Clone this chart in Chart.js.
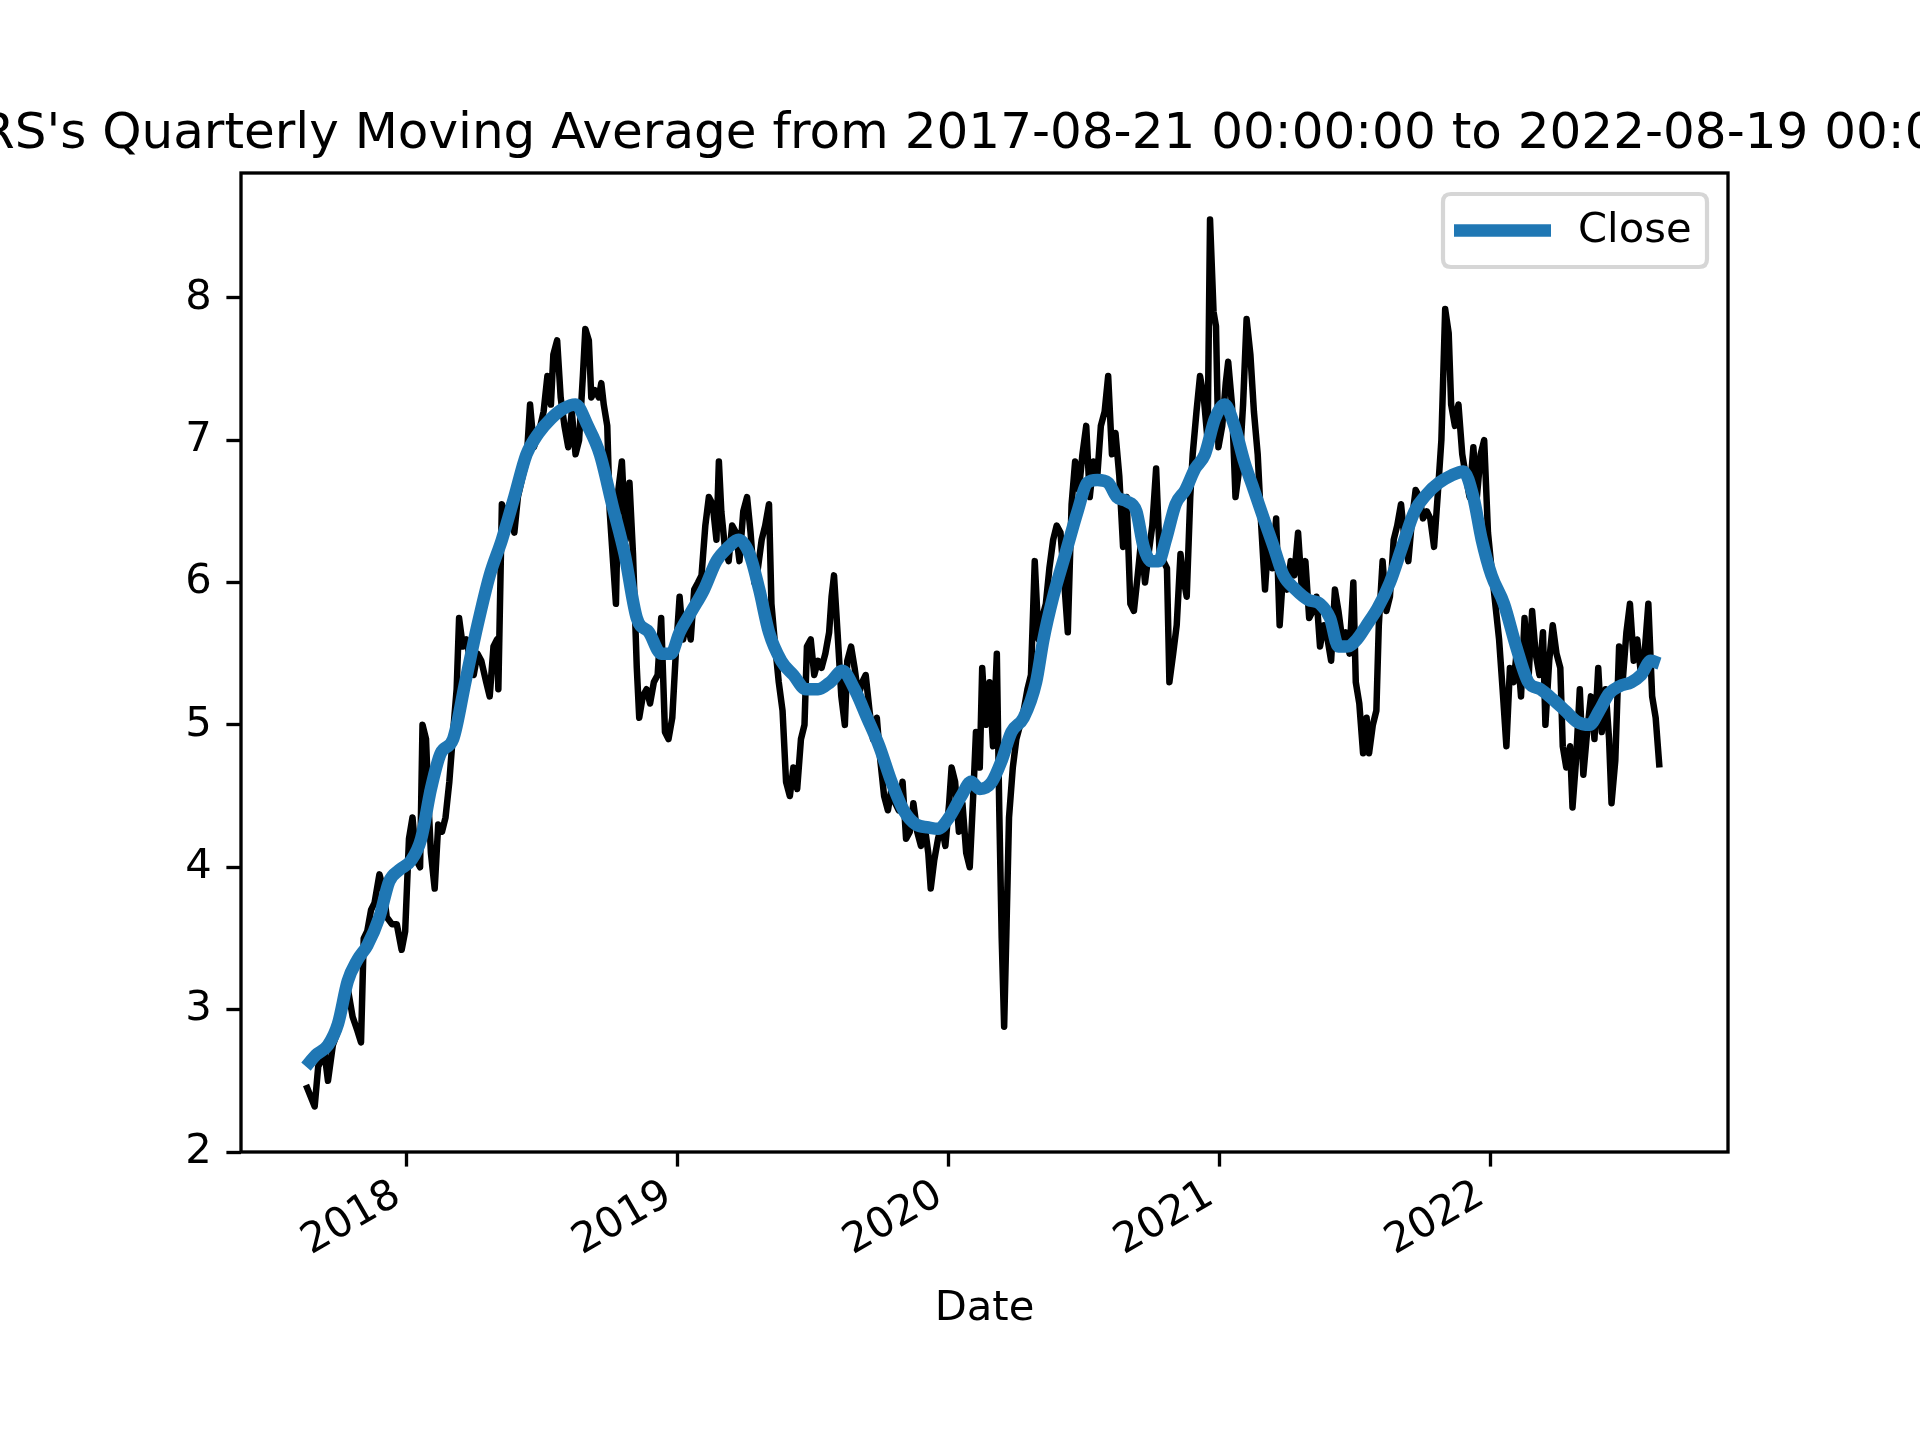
<!DOCTYPE html>
<html>
<head>
<meta charset="utf-8">
<title>Quarterly Moving Average</title>
<script src="https://cdn.jsdelivr.net/npm/chart.js@4.4.0/dist/chart.umd.min.js"></script>
<style>
  html, body { margin: 0; padding: 0; background: #ffffff; overflow: hidden; }
  canvas { display: block; }
</style>
</head>
<body>
<canvas id="chart" width="1920" height="1440"></canvas>
<script>
// daily close (dates as decimal years)
var closeDates = [
    2017.629, 2017.661, 2017.674, 2017.697, 2017.710, 2017.728, 2017.747, 2017.765, 2017.783, 2017.801,
    2017.819, 2017.832, 2017.842, 2017.855, 2017.869, 2017.882, 2017.900, 2017.914, 2017.927, 2017.946,
    2017.964, 2017.982, 2017.995, 2018.009, 2018.022, 2018.036, 2018.050, 2018.059, 2018.072, 2018.081,
    2018.090, 2018.104, 2018.117, 2018.131, 2018.144, 2018.158, 2018.172, 2018.185, 2018.194, 2018.208,
    2018.221, 2018.235, 2018.248, 2018.262, 2018.276, 2018.294, 2018.307, 2018.321, 2018.334, 2018.339,
    2018.352, 2018.366, 2018.380, 2018.398, 2018.411, 2018.429, 2018.443, 2018.456, 2018.470, 2018.488,
    2018.506, 2018.520, 2018.533, 2018.542, 2018.556, 2018.569, 2018.583, 2018.597, 2018.610, 2018.624,
    2018.637, 2018.651, 2018.660, 2018.673, 2018.682, 2018.696, 2018.710, 2018.719, 2018.728, 2018.741,
    2018.750, 2018.764, 2018.773, 2018.782, 2018.795, 2018.809, 2018.823, 2018.836, 2018.850, 2018.859,
    2018.872, 2018.886, 2018.899, 2018.913, 2018.927, 2018.940, 2018.954, 2018.967, 2018.981, 2018.994,
    2019.008, 2019.021, 2019.035, 2019.049, 2019.062, 2019.076, 2019.089, 2019.103, 2019.116, 2019.130,
    2019.144, 2019.153, 2019.162, 2019.175, 2019.189, 2019.202, 2019.216, 2019.229, 2019.243, 2019.257,
    2019.270, 2019.284, 2019.297, 2019.311, 2019.324, 2019.338, 2019.347, 2019.361, 2019.374, 2019.388,
    2019.401, 2019.415, 2019.428, 2019.442, 2019.456, 2019.469, 2019.478, 2019.492, 2019.505, 2019.519,
    2019.532, 2019.546, 2019.560, 2019.569, 2019.578, 2019.591, 2019.605, 2019.618, 2019.627, 2019.641,
    2019.654, 2019.668, 2019.682, 2019.695, 2019.709, 2019.722, 2019.736, 2019.749, 2019.763, 2019.777,
    2019.790, 2019.804, 2019.817, 2019.831, 2019.844, 2019.858, 2019.871, 2019.885, 2019.899, 2019.912,
    2019.926, 2019.935, 2019.948, 2019.962, 2019.975, 2019.989, 2020.003, 2020.012, 2020.025, 2020.039,
    2020.052, 2020.066, 2020.079, 2020.093, 2020.102, 2020.116, 2020.125, 2020.138, 2020.152, 2020.165,
    2020.179, 2020.188, 2020.197, 2020.206, 2020.215, 2020.224, 2020.238, 2020.251, 2020.265, 2020.278,
    2020.292, 2020.305, 2020.319, 2020.333, 2020.346, 2020.360, 2020.373, 2020.387, 2020.400, 2020.414,
    2020.428, 2020.441, 2020.455, 2020.468, 2020.482, 2020.495, 2020.509, 2020.522, 2020.536, 2020.550,
    2020.563, 2020.577, 2020.590, 2020.604, 2020.617, 2020.631, 2020.645, 2020.658, 2020.672, 2020.685,
    2020.699, 2020.712, 2020.726, 2020.739, 2020.753, 2020.767, 2020.780, 2020.794, 2020.807, 2020.816,
    2020.830, 2020.843, 2020.857, 2020.866, 2020.880, 2020.893, 2020.902, 2020.916, 2020.929, 2020.943,
    2020.957, 2020.966, 2020.979, 2020.988, 2020.997, 2021.011, 2021.024, 2021.033, 2021.047, 2021.060,
    2021.074, 2021.088, 2021.101, 2021.115, 2021.128, 2021.142, 2021.155, 2021.169, 2021.183, 2021.196,
    2021.210, 2021.223, 2021.237, 2021.250, 2021.264, 2021.277, 2021.291, 2021.305, 2021.318, 2021.332,
    2021.345, 2021.359, 2021.372, 2021.386, 2021.400, 2021.413, 2021.427, 2021.440, 2021.454, 2021.467,
    2021.481, 2021.495, 2021.504, 2021.517, 2021.531, 2021.544, 2021.553, 2021.567, 2021.580, 2021.589,
    2021.603, 2021.617, 2021.630, 2021.644, 2021.657, 2021.671, 2021.684, 2021.698, 2021.712, 2021.725,
    2021.739, 2021.752, 2021.766, 2021.779, 2021.793, 2021.806, 2021.820, 2021.834, 2021.847, 2021.856,
    2021.870, 2021.883, 2021.897, 2021.910, 2021.924, 2021.938, 2021.951, 2021.965, 2021.978, 2021.992,
    2022.005, 2022.019, 2022.033, 2022.046, 2022.060, 2022.073, 2022.087, 2022.100, 2022.114, 2022.127,
    2022.141, 2022.155, 2022.168, 2022.182, 2022.195, 2022.204, 2022.218, 2022.231, 2022.245, 2022.259,
    2022.268, 2022.281, 2022.295, 2022.304, 2022.317, 2022.331, 2022.344, 2022.358, 2022.372, 2022.385,
    2022.399, 2022.412, 2022.426, 2022.439, 2022.448, 2022.462, 2022.476, 2022.489, 2022.503, 2022.516,
    2022.530, 2022.543, 2022.557, 2022.570, 2022.584, 2022.598, 2022.611, 2022.625
];
var closeValues = [
    2.47, 2.32, 2.6, 2.7, 2.5, 2.75, 2.85, 3.05, 3.15, 2.95,
    2.85, 2.77, 3.5, 3.55, 3.7, 3.75, 3.95, 3.85, 3.65, 3.6,
    3.6, 3.42, 3.55, 4.2, 4.35, 4.05, 4.0, 5.0, 4.9, 4.45,
    4.1, 3.85, 4.3, 4.25, 4.35, 4.6, 4.95, 5.25, 5.75, 5.55,
    5.6, 5.45, 5.35, 5.5, 5.45, 5.3, 5.2, 5.55, 5.6, 5.25,
    6.55, 6.45, 6.55, 6.35, 6.6, 6.75, 6.85, 7.25, 6.95, 7.05,
    7.2, 7.45, 7.25, 7.6, 7.7, 7.3, 7.1, 6.95, 7.2, 6.9,
    7.0, 7.45, 7.78, 7.7, 7.3, 7.35, 7.3, 7.4, 7.25, 7.1,
    6.5, 6.1, 5.85, 6.65, 6.85, 6.3, 6.7, 6.2, 5.4, 5.05,
    5.2, 5.25, 5.15, 5.3, 5.35, 5.75, 4.95, 4.9, 5.05, 5.5,
    5.9, 5.6, 5.75, 5.6, 5.95, 6.0, 6.05, 6.4, 6.6, 6.55,
    6.3, 6.85, 6.5, 6.25, 6.15, 6.4, 6.35, 6.15, 6.5, 6.6,
    6.35, 6.0, 6.1, 6.3, 6.4, 6.55, 5.85, 5.55, 5.3, 5.1,
    4.6, 4.5, 4.7, 4.55, 4.9, 5.0, 5.55, 5.6, 5.35, 5.45,
    5.4, 5.5, 5.65, 5.9, 6.05, 5.65, 5.2, 5.0, 5.45, 5.55,
    5.4, 5.2, 5.3, 5.35, 5.1, 4.9, 5.05, 4.75, 4.5, 4.4,
    4.55, 4.45, 4.4, 4.6, 4.2, 4.25, 4.45, 4.25, 4.15, 4.3,
    4.1, 3.85, 4.05, 4.2, 4.3, 4.15, 4.45, 4.7, 4.6, 4.25,
    4.45, 4.1, 4.0, 4.55, 4.95, 4.7, 5.4, 5.0, 5.3, 4.85,
    5.5, 4.4, 3.5, 2.88, 3.6, 4.35, 4.7, 4.9, 5.0, 5.1,
    5.25, 5.35, 6.15, 5.6, 5.75, 5.85, 6.1, 6.3, 6.4, 6.35,
    6.0, 5.65, 6.55, 6.85, 6.65, 6.9, 7.1, 6.6, 6.85, 6.75,
    7.1, 7.2, 7.45, 6.9, 7.05, 6.75, 6.25, 6.6, 5.85, 5.8,
    6.05, 6.3, 6.0, 6.2, 6.4, 6.8, 6.2, 6.15, 6.1, 5.3,
    5.5, 5.7, 6.2, 6.05, 5.9, 6.6, 6.9, 7.2, 7.45, 7.3,
    7.0, 8.55, 7.9, 7.8, 6.95, 7.1, 7.4, 7.55, 7.25, 6.6,
    6.8, 7.25, 7.85, 7.6, 7.2, 6.9, 6.4, 5.95, 6.35, 6.1,
    6.45, 5.7, 6.1, 5.95, 6.15, 6.05, 6.35, 5.95, 6.15, 5.75,
    5.8, 5.9, 5.55, 5.7, 5.6, 5.45, 5.95, 5.8, 5.6, 5.65,
    5.5, 6.0, 5.3, 5.15, 4.8, 5.05, 4.8, 5.0, 5.1, 5.7,
    6.15, 5.8, 5.9, 6.3, 6.4, 6.55, 6.3, 6.15, 6.45, 6.65,
    6.6, 6.45, 6.5, 6.45, 6.25, 6.6, 7.0, 7.92, 7.75, 7.25,
    7.1, 7.25, 6.9, 6.75, 6.6, 6.95, 6.6, 6.9, 7.0, 6.35,
    6.1, 5.85, 5.6, 5.25, 4.85, 5.4, 5.3, 5.55, 5.2, 5.75,
    5.3, 5.8, 5.5, 5.35, 5.65, 5.0, 5.45, 5.7, 5.5, 5.4,
    4.85, 4.7, 4.85, 4.42, 4.75, 5.25, 4.65, 4.95, 5.2, 4.9,
    5.4, 4.95, 5.25, 4.9, 4.45, 4.75, 5.55, 5.3, 5.65, 5.85,
    5.45, 5.6, 5.35, 5.5, 5.85, 5.2, 5.05, 4.7
];

// quarterly moving average (the line the legend calls "Close")
var maDates = [
    2017.629, 2017.665, 2017.710, 2017.747, 2017.783, 2017.819, 2017.855, 2017.900, 2017.936, 2017.973,
    2018.018, 2018.054, 2018.090, 2018.126, 2018.172, 2018.217, 2018.262, 2018.307, 2018.352, 2018.398,
    2018.443, 2018.488, 2018.533, 2018.578, 2018.624, 2018.669, 2018.714, 2018.759, 2018.805, 2018.850,
    2018.895, 2018.940, 2018.976, 2019.008, 2019.053, 2019.098, 2019.144, 2019.189, 2019.225, 2019.266,
    2019.302, 2019.338, 2019.383, 2019.428, 2019.474, 2019.519, 2019.564, 2019.609, 2019.654, 2019.700,
    2019.745, 2019.790, 2019.835, 2019.881, 2019.926, 2019.962, 2020.003, 2020.048, 2020.084, 2020.116,
    2020.161, 2020.197, 2020.233, 2020.278, 2020.324, 2020.351, 2020.387, 2020.432, 2020.477, 2020.513,
    2020.550, 2020.590, 2020.622, 2020.658, 2020.694, 2020.721, 2020.749, 2020.776, 2020.803, 2020.839,
    2020.875, 2020.911, 2020.947, 2020.984, 2021.020, 2021.056, 2021.092, 2021.128, 2021.164, 2021.201,
    2021.237, 2021.282, 2021.327, 2021.372, 2021.409, 2021.440, 2021.472, 2021.508, 2021.544, 2021.585,
    2021.630, 2021.675, 2021.721, 2021.766, 2021.811, 2021.856, 2021.901, 2021.938, 2021.969, 2022.005,
    2022.051, 2022.096, 2022.141, 2022.186, 2022.231, 2022.277, 2022.322, 2022.367, 2022.403, 2022.439,
    2022.476, 2022.521, 2022.557, 2022.593, 2022.625
];
var maValues = [
    2.6, 2.68, 2.75, 2.9, 3.2, 3.35, 3.45, 3.65, 3.9, 3.98,
    4.05, 4.2, 4.55, 4.8, 4.9, 5.3, 5.7, 6.05, 6.3, 6.6,
    6.9, 7.05, 7.15, 7.22, 7.25, 7.1, 6.9, 6.55, 6.2, 5.75,
    5.65, 5.5, 5.5, 5.65, 5.8, 5.95, 6.15, 6.25, 6.3, 6.2,
    5.95, 5.65, 5.45, 5.35, 5.25, 5.25, 5.3, 5.38, 5.25, 5.05,
    4.85, 4.6, 4.4, 4.3, 4.28, 4.27, 4.35, 4.5, 4.6, 4.55,
    4.6, 4.75, 4.95, 5.05, 5.3, 5.6, 5.9, 6.2, 6.5, 6.7,
    6.72, 6.7, 6.6, 6.57, 6.5, 6.25, 6.15, 6.15, 6.3, 6.55,
    6.65, 6.8, 6.9, 7.15, 7.25, 7.1, 6.85, 6.65, 6.45, 6.25,
    6.05, 5.95, 5.88, 5.85, 5.75, 5.55, 5.55, 5.6, 5.7, 5.82,
    6.0, 6.25, 6.5, 6.62, 6.7, 6.75, 6.78, 6.6, 6.3, 6.05,
    5.85, 5.55, 5.3, 5.25, 5.18, 5.1, 5.02, 5.0, 5.1, 5.22,
    5.27, 5.3, 5.35, 5.45, 5.43
];

var yearTicks = [2018, 2019, 2020, 2021, 2022];
var valueTicks = [2, 3, 4, 5, 6, 7, 8];
var chartTitle = "RS's Quarterly Moving Average from 2017-08-21 00:00:00 to 2022-08-19 00:00:00";
var legendLabel = "Close";

var blue = "#1f77b4";
var fontFamily = "'DejaVu Sans', 'Liberation Sans', sans-serif";

function toPoints(xs, ys) {
    var pts = [];
    for (let i = 0; i < xs.length; i++) {
        pts.push({ x: xs[i], y: ys[i] });
    }
    return pts;
}

// title, frame and legend drawn the matplotlib way
var mplLook = {
    id: "mplLook",
    afterDraw: function(chart) {
        var ctx = chart.ctx;
        var area = chart.chartArea;
        ctx.save();

        // axes frame
        ctx.strokeStyle = "#000000";
        ctx.lineWidth = 3.33;
        ctx.strokeRect(area.left, area.top, area.right - area.left, area.bottom - area.top);

        // title
        ctx.fillStyle = "#000000";
        ctx.font = "50px " + fontFamily;
        ctx.textAlign = "left";
        ctx.textBaseline = "alphabetic";
        ctx.fillText(chartTitle, -20, area.top - 25);

        // legend box
        var bx = area.right - 21 - 264, by = area.top + 21, bw = 264, bh = 73, r = 8;
        ctx.beginPath();
        ctx.moveTo(bx + r, by);
        ctx.lineTo(bx + bw - r, by);
        ctx.quadraticCurveTo(bx + bw, by, bx + bw, by + r);
        ctx.lineTo(bx + bw, by + bh - r);
        ctx.quadraticCurveTo(bx + bw, by + bh, bx + bw - r, by + bh);
        ctx.lineTo(bx + r, by + bh);
        ctx.quadraticCurveTo(bx, by + bh, bx, by + bh - r);
        ctx.lineTo(bx, by + r);
        ctx.quadraticCurveTo(bx, by, bx + r, by);
        ctx.closePath();
        ctx.fillStyle = "rgba(255,255,255,0.8)";
        ctx.fill();
        ctx.strokeStyle = "#d6d6d6";
        ctx.lineWidth = 4.2;
        ctx.stroke();

        ctx.strokeStyle = blue;
        ctx.lineWidth = 12.5;
        ctx.lineCap = "butt";
        ctx.beginPath();
        ctx.moveTo(bx + 11, by + bh / 2);
        ctx.lineTo(bx + 108, by + bh / 2);
        ctx.stroke();

        ctx.fillStyle = "#000000";
        ctx.font = "41.7px " + fontFamily;
        ctx.textBaseline = "middle";
        ctx.fillText(legendLabel, bx + 135, by + bh / 2 + 1);
        ctx.restore();
    }
};

Chart.defaults.font.family = fontFamily;
Chart.defaults.color = "#000000";

var elem = document.getElementById("chart").getContext("2d");

const newChart = new Chart(elem, {
    type: "line",
    data: {
        datasets: [{
            label: legendLabel,
            data: toPoints(maDates, maValues),
            borderColor: blue,
            borderWidth: 12.5,
            borderJoinStyle: "round",
            cubicInterpolationMode: "monotone",
            pointRadius: 0,
            fill: false
        }, {
            label: "Daily",
            data: toPoints(closeDates, closeValues),
            borderColor: "#000000",
            borderWidth: 6.5,
            borderJoinStyle: "round",
            pointRadius: 0,
            tension: 0,
            fill: false
        }]
    },
    options: {
        responsive: false,
        animation: false,
        devicePixelRatio: 1,
        layout: { padding: { top: 173, right: 192, left: 0, bottom: 0 } },
        plugins: {
            legend: { display: false },
            title: { display: false },
            tooltip: { enabled: false }
        },
        scales: {
            x: {
                type: "linear",
                min: 2017.389,
                max: 2022.878,
                afterBuildTicks: function(scale) {
                    scale.ticks = yearTicks.map(function(v) { return { value: v }; });
                },
                afterFit: function(scale) { scale.height = 288; },
                border: { display: false },
                grid: {
                    drawOnChartArea: false,
                    drawTicks: true,
                    tickLength: 14.6,
                    tickWidth: 3.33,
                    tickColor: "#000000"
                },
                ticks: {
                    autoSkip: false,
                    minRotation: 30,
                    maxRotation: 30,
                    padding: 4,
                    labelOffset: -9,
                    color: "#000000",
                    font: { size: 41.7 },
                    callback: function(v) { return String(v); }
                },
                title: {
                    display: true,
                    text: "Date",
                    color: "#000000",
                    font: { size: 41.7 },
                    padding: { top: 0, bottom: 106 }
                }
            },
            y: {
                type: "linear",
                min: 2,
                max: 8.876,
                afterBuildTicks: function(scale) {
                    scale.ticks = valueTicks.map(function(v) { return { value: v }; });
                },
                afterFit: function(scale) { scale.width = 241; },
                border: { display: false },
                grid: {
                    drawOnChartArea: false,
                    drawTicks: true,
                    tickLength: 14.6,
                    tickWidth: 3.33,
                    tickColor: "#000000"
                },
                ticks: {
                    padding: 14.6,
                    color: "#000000",
                    font: { size: 41.7 },
                    callback: function(v) { return String(v); }
                }
            }
        }
    },
    plugins: [mplLook]
});
</script>
</body>
</html>
